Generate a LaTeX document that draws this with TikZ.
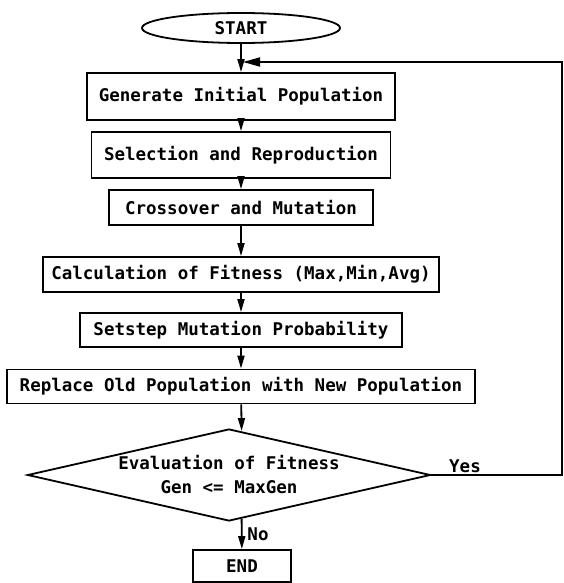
\documentclass[tikz,border=0pt]{standalone}
\usepackage{fontspec}
\setmainfont{DejaVu Sans Mono}
\usetikzlibrary{shapes.geometric,arrows.meta}
\tikzset{
  box/.style={draw,rectangle,inner sep=0pt},
  flow/.style={-{Triangle[length=13pt,width=7pt]}},
  backflow/.style={-{Triangle[length=17pt,width=9pt]}},
}
\begin{document}
\begin{tikzpicture}[x=1pt,y=-1pt,line width=1.8pt,font=\bfseries\fontsize{17.5}{24}\selectfont]
      \useasboundingbox (0,0) rectangle (564,583);
      \draw
        (241,28) node[draw,ellipse,inner sep=0pt,minimum width=198pt,minimum height=30pt] (start){START}
        (241,96.5) node[box,minimum width=308pt,minimum height=47pt] (init){Generate Initial Population}
        (241,155) node[box,minimum width=299pt,minimum height=46pt] (select){Selection and Reproduction}
        (241,207.5) node[box,minimum width=264pt,minimum height=35pt] (cross){Crossover and Mutation}
        (241,274.5) node[box,minimum width=396pt,minimum height=35pt] (fit){Calculation of Fitness (Max,Min,Avg)}
        (241,330) node[box,minimum width=322pt,minimum height=34pt] (mut){Setstep Mutation Probability}
        (241,386.5) node[box,minimum width=468pt,minimum height=34pt] (replace){Replace Old Population with New Population}
        (229,475) node[draw,diamond,inner sep=0pt,align=center,shape aspect=4.4,minimum width=403pt,minimum height=92pt] (eval){Evaluation of Fitness\\Gen <= MaxGen}
        (242,566) node[box,minimum width=98pt,minimum height=32pt] (end){END}
        (465,466) node (yes){Yes}
        (258,534) node (no){No};
      \coordinate (corner) at (562,62);
      \coordinate (merge) at (243,62);
      \begin{scope}[flow]
        \draw (start) to (init);
        \draw (init) to (select);
        \draw (select) to (cross);
        \draw (cross) to (fit);
        \draw (fit) to (mut);
        \draw (mut) to (replace);
        \draw (replace) to (eval.74);
        \draw (eval.-74) to (end);
      \end{scope}
      \draw[backflow] (eval.east) -- (eval.east -| corner) -- (corner) -- (merge);
    \end{tikzpicture}
\end{document}
